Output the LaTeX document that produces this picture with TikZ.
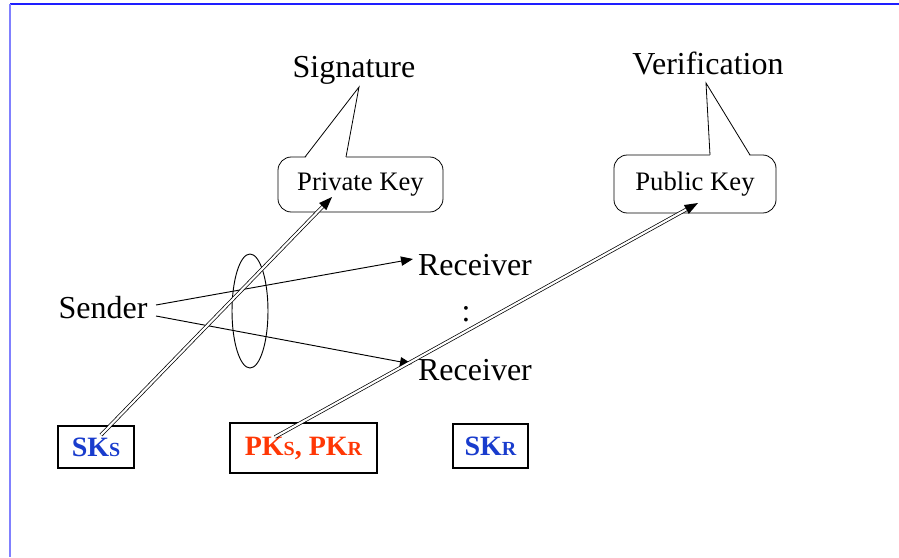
\documentclass[tikz,border=0pt]{standalone}
\usepackage{fontspec}
\setmainfont{Liberation Serif}
\usetikzlibrary{arrows.meta,calc}
\definecolor{keyblue}{RGB}{25,60,205}
\definecolor{keyred}{RGB}{255,55,5}
\definecolor{frameblue}{RGB}{30,30,255}
\definecolor{frameleft}{RGB}{128,128,255}
\begin{document}
\begin{tikzpicture}[x=0.75pt,y=-0.75pt,
  bigtxt/.style={font=\fontsize{24}{28}\selectfont, inner sep=0pt},
  calltxt/.style={font=\fontsize{20}{24}\selectfont},
  callbox/.style={draw, rounded corners=10pt, fill=white, line width=0.6pt, calltxt},
  keybox/.style={draw, line width=0.8pt, font=\bfseries\fontsize{21}{24}\selectfont, inner sep=0pt},
  thinarrow/.style={line width=0.7pt, -{Triangle[length=9pt,width=7pt]}},
  dbl/.style={double, double distance=1.6pt, line width=0.55pt, shorten >=8pt}
]
\useasboundingbox (0,0) rectangle (899,557);
\fill[white] (0,0) rectangle (899,557);
% frame
\draw[frameblue, line width=1.2pt] (10,4) -- (899,4);
\draw[frameleft, line width=1.2pt] (10,4) -- (10,557);

% titles
\node[bigtxt] (sig) at (354,70) {Signature};
\node[bigtxt] (ver) at (708,63) {Verification};

% callout boxes
\node[callbox, minimum width=123.75pt, minimum height=41.25pt] (prk) at (360.5,184.5) {Private Key};
\node[callbox, minimum width=121.5pt, minimum height=43.5pt] (pubk) at (695,184) {Public Key};
% tails
\coordinate (sigtip) at (359,87);
\coordinate (vertip) at (706,83);
\fill[white] (305,158.5) -- (sigtip) -- (346,158.5) -- cycle;
\draw[line width=0.6pt] (305,157) -- (sigtip) -- (346,157);
\fill[white] (710,156.5) -- (vertip) -- (750,156.5) -- cycle;
\draw[line width=0.6pt] (710,155) -- (vertip) -- (750,155);

% sender / receivers
\node[bigtxt] (sender) at (103,308) {Sender};
\node[bigtxt] (rec1) at (475,265) {Receiver};
\node[bigtxt] (rec2) at (475,370) {Receiver};
\node[bigtxt] (dots) at (466,314) {:};
\coordinate (s1) at (156,305);
\coordinate (s2) at (156,316);
\coordinate (r1) at (413,259);
\coordinate (r2) at (412,364);
\draw[thinarrow] (s1) -- (r1);
\draw[thinarrow] (s2) -- (r2);

% ellipse
\draw[line width=0.7pt] (250,311) ellipse (18 and 57);

% key boxes
\node[keybox, keyblue, minimum width=57pt, minimum height=31.5pt, draw=black] (sks) at (96,447) {SK\fontsize{15}{15}\selectfont S};
\node[keybox, keyred, minimum width=110.25pt, minimum height=37.5pt, draw=black] (pks) at (303.5,448) {PK\fontsize{15}{15}\selectfont S\fontsize{21}{24}\selectfont, PK\fontsize{15}{15}\selectfont R};
\node[keybox, keyblue, minimum width=56.25pt, minimum height=33pt, draw=black] (skr) at (490.5,446) {SK\fontsize{15}{15}\selectfont R};

% double arrows
\coordinate (a1s) at (101,435);
\coordinate (a1t) at (332,197);
\coordinate (a2s) at (275,437);
\coordinate (a2t) at (698,203);
\draw[dbl] (a1s) -- (a1t);
\draw[dbl] (a2s) -- (a2t);
\coordinate (a1b) at ($(a1t)!10pt!(a1s)$);
\coordinate (a2b) at ($(a2t)!10pt!(a2s)$);
\fill (a1t) -- ($(a1b)!3.8pt!90:(a1t)$) -- ($(a1b)!3.8pt!-90:(a1t)$) -- cycle;
\fill (a2t) -- ($(a2b)!3.8pt!90:(a2t)$) -- ($(a2b)!3.8pt!-90:(a2t)$) -- cycle;
\end{tikzpicture}
\end{document}
